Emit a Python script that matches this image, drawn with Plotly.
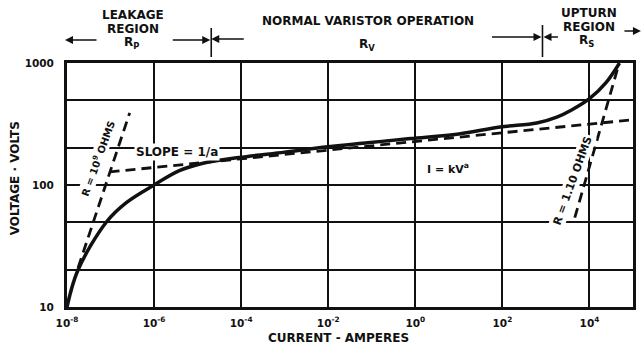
import plotly.graph_objects as go

# Varistor V-I characteristic (log10 of current in amperes, voltage in volts)
curve_log_current = [-8.0, -7.75, -7.09, -6.63, -6.0, -5.42, -4.9, -4.05, -3.0, -2.07,
                     -1.09, -0.11, 1.0, 1.95, 2.79, 3.25, 3.59, 4.0, 4.39, 4.69]
curve_voltage = [10, 20, 50, 72, 100, 131, 150, 168, 186, 205,
                 222, 240, 262, 299, 322, 360, 412, 510, 698, 1000]

# Asymptotes: leakage resistance, I = kV^a slope, upturn resistance
leak_current = [1.8e-8, 2.75e-7]
leak_voltage = [21, 390]
slope_current = [9.5e-8, 8.1e4]
slope_voltage = [128, 340]
upturn_current = [4.6e3, 4.6e4]
upturn_voltage = [54, 944]

x_tick_exponents = [-8, -6, -4, -2, 0, 2, 4]
y_tick_values = [10, 20, 50, 100, 200, 500, 1000]
y_tick_labels = ["10", "", "", "100", "", "", "1000"]

curve_current = [10 ** e for e in curve_log_current]

INK = "#111111"
FONT = "DejaVu Sans"

fig = go.Figure()

dash = "10px,6px"
for xs, ys in [(leak_current, leak_voltage), (slope_current, slope_voltage),
               (upturn_current, upturn_voltage)]:
    fig.add_trace(go.Scatter(x=xs, y=ys, mode="lines",
                             line=dict(color=INK, width=2.8, dash=dash),
                             hoverinfo="skip", showlegend=False))

fig.add_trace(go.Scatter(x=curve_current, y=curve_voltage, mode="lines",
                         line=dict(color=INK, width=3.5, shape="spline", smoothing=1.0),
                         showlegend=False))

W, H = 644, 349
L, R, T, B = 67, 8, 63, 42
PW, PH = W - L - R, H - T - B


def px(x):
    return (x - L) / PW


def py(y):
    return (H - B - y) / PH


def bold(size):
    return dict(family=FONT, size=size, color=INK, weight="bold")


annotations = []

# text inside the plot, white background breaks the grid behind it
annotations += [
    dict(x=-5.47, y=2.27, xref="x", yref="y", text="SLOPE = 1/a", showarrow=False,
         font=bold(12), bgcolor="white", borderpad=1),
    dict(x=0.74, y=2.139, xref="x", yref="y", text="I = kV<sup>a</sup>", showarrow=False,
         font=bold(11), bgcolor="white", borderpad=1),
    dict(x=-7.29, y=2.22, xref="x", yref="y", text="R = 10<sup>9</sup> OHMS", showarrow=False,
         font=bold(10), textangle=-70, bgcolor="white", borderpad=1),
    dict(x=3.61, y=2.04, xref="x", yref="y", text="R = 1.10 OHMS", showarrow=False,
         font=bold(11), textangle=-70, bgcolor="white", borderpad=1),
]

# region headers
headers = [
    ("LEAKAGE", 133, 15), ("REGION", 133, 29), ("R<sub>P</sub>", 132, 43),
    ("NORMAL VARISTOR OPERATION", 370, 21), ("R<sub>V</sub>", 369, 45),
    ("UPTURN", 592, 13), ("REGION", 592, 27), ("R<sub>S</sub>", 589, 41),
]
for text, x, y in headers:
    annotations.append(dict(x=px(x), y=py(y), xref="paper", yref="paper", text=text,
                            xanchor="center", yanchor="middle",
                            showarrow=False, font=bold(12)))

# region arrows: (head x, head y, tail x)
arrows = [(65, 40, 98), (211, 40, 172), (212, 39, 246), (544, 37, 493),
          (546, 37, 562), (644, 31, 626)]
for hx, hy, tx in arrows:
    annotations.append(dict(x=px(hx), y=py(hy), xref="paper", yref="paper", text="",
                            showarrow=True, ax=tx - hx, ay=0, arrowhead=2, arrowsize=1,
                            arrowwidth=1.6, arrowcolor=INK))

# axis titles
annotations += [
    dict(x=px(340), y=py(338), xref="paper", yref="paper", text="CURRENT - AMPERES",
         xanchor="center", yanchor="middle", showarrow=False, font=bold(12)),
    dict(x=px(15), y=py(178), xref="paper", yref="paper", text="VOLTAGE · VOLTS",
         xanchor="center", yanchor="middle", showarrow=False, font=bold(12), textangle=-90),
]

shapes = [
    dict(type="line", xref="paper", yref="paper", x0=px(212), x1=px(212), y0=py(28), y1=py(57),
         line=dict(color=INK, width=1.6)),
    dict(type="line", xref="paper", yref="paper", x0=px(545), x1=px(545), y0=py(25), y1=py(57),
         line=dict(color=INK, width=1.6)),
]

fig.update_layout(
    width=W, height=H,
    margin=dict(l=L, r=R, t=T, b=B),
    paper_bgcolor="white", plot_bgcolor="white",
    annotations=annotations, shapes=shapes,
    showlegend=False,
)

fig.update_xaxes(
    type="log", range=[-8, 5],
    tickvals=[10 ** e for e in x_tick_exponents],
    ticktext=[f"10<sup>{e}</sup>" for e in x_tick_exponents],
    tickfont=bold(10.5), ticks="", showgrid=True, gridcolor=INK, gridwidth=1.8,
    showline=True, linecolor=INK, linewidth=3, mirror=True, zeroline=False,
    ticklabelstandoff=4,
)
fig.update_yaxes(
    type="log", range=[1, 3],
    tickvals=y_tick_values, ticktext=y_tick_labels,
    tickfont=bold(10.5), ticks="", showgrid=True, gridcolor=INK, gridwidth=2.4,
    showline=True, linecolor=INK, linewidth=3, mirror=True, zeroline=False,
    ticklabelstandoff=8,
)

fig.write_html("out.html")
